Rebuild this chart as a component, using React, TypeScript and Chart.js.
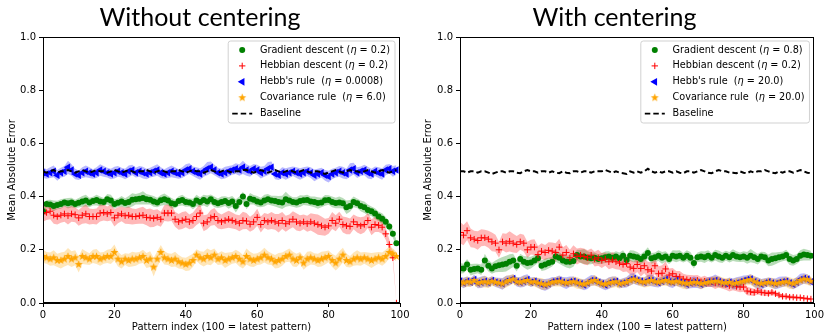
import React, { useEffect, useRef } from 'react';
import { Chart, registerables } from 'chart.js';

Chart.register(...registerables);
Chart.defaults.font.family = '"DejaVu Sans"';
Chart.defaults.color = '#000';

// ---------------- categories / labels ----------------
const patternIndex = Array.from({ length: 100 }, (_, i) => i);
const panelTitles = ['Without centering', 'With centering'];
const xAxisTitle = 'Pattern index (100 = latest pattern)';
const yAxisTitle = 'Mean Absolute Error';
const seriesNames = ['Gradient descent', 'Hebbian descent', "Hebb's rule ", 'Covariance rule '];
const withoutEtas = ['0.2', '0.2', '0.0008', '6.0'];
const withEtas = ['0.8', '0.2', '20.0', '20.0'];
const baselineName = 'Baseline';

// ---------------- Without centering ----------------
const withoutGD = [
  0.345,0.372,0.370,0.365,0.368,0.372,0.378,0.375,0.378,0.372,
  0.377,0.382,0.385,0.378,0.383,0.387,0.382,0.380,0.390,0.385,
  0.372,0.377,0.382,0.376,0.380,0.388,0.390,0.392,0.395,0.390,
  0.388,0.382,0.378,0.386,0.390,0.385,0.375,0.372,0.383,0.387,
  0.380,0.378,0.372,0.385,0.380,0.387,0.382,0.390,0.380,0.375,
  0.380,0.383,0.376,0.382,0.365,0.380,0.400,0.372,0.392,0.388,
  0.382,0.378,0.385,0.390,0.385,0.383,0.380,0.378,0.390,0.385,
  0.380,0.378,0.383,0.386,0.387,0.382,0.380,0.376,0.378,0.386,
  0.387,0.380,0.376,0.378,0.375,0.360,0.365,0.380,0.375,0.365,
  0.360,0.350,0.345,0.336,0.325,0.317,0.305,0.288,0.260,0.225,
];
const withoutGDsd = [
  0.020,0.015,0.018,0.020,0.016,0.018,0.015,0.020,0.018,0.016,
  0.018,0.020,0.022,0.018,0.016,0.020,0.018,0.015,0.020,0.022,
  0.018,0.016,0.020,0.018,0.022,0.025,0.020,0.022,0.025,0.020,
  0.018,0.020,0.018,0.020,0.022,0.018,0.020,0.016,0.018,0.020,
  0.018,0.015,0.020,0.022,0.018,0.020,0.022,0.018,0.020,0.018,
  0.020,0.018,0.022,0.020,0.025,0.020,0.018,0.020,0.022,0.018,
  0.020,0.018,0.022,0.020,0.018,0.020,0.022,0.025,0.028,0.020,
  0.018,0.020,0.022,0.018,0.020,0.018,0.020,0.022,0.018,0.020,
  0.018,0.020,0.020,0.022,0.020,0.025,0.022,0.020,0.018,0.020,
  0.022,0.020,0.018,0.020,0.018,0.020,0.018,0.016,0.015,0.012,
];
const withoutHD = [
  0.335,0.340,0.345,0.330,0.325,0.330,0.335,0.328,0.335,0.332,
  0.320,0.330,0.335,0.325,0.325,0.325,0.338,0.340,0.335,0.340,
  0.320,0.330,0.335,0.328,0.330,0.325,0.325,0.328,0.330,0.322,
  0.320,0.318,0.322,0.315,0.338,0.338,0.338,0.315,0.305,0.310,
  0.315,0.305,0.310,0.325,0.338,0.300,0.305,0.320,0.325,0.310,
  0.305,0.310,0.315,0.310,0.305,0.300,0.310,0.308,0.296,0.305,
  0.322,0.295,0.310,0.305,0.310,0.305,0.300,0.310,0.298,0.305,
  0.315,0.305,0.300,0.305,0.298,0.305,0.300,0.295,0.290,0.285,
  0.290,0.310,0.300,0.315,0.295,0.290,0.288,0.305,0.295,0.290,
  0.295,0.310,0.285,0.295,0.292,0.285,0.260,0.220,0.170,0.000,
];
const withoutHDsd = [
  0.030,0.028,0.030,0.032,0.030,0.028,0.030,0.033,0.030,0.028,
  0.030,0.032,0.035,0.030,0.028,0.030,0.032,0.030,0.028,0.030,
  0.032,0.030,0.028,0.030,0.033,0.030,0.028,0.030,0.032,0.030,
  0.035,0.032,0.030,0.028,0.030,0.032,0.030,0.028,0.030,0.032,
  0.030,0.028,0.030,0.032,0.035,0.030,0.028,0.030,0.032,0.030,
  0.028,0.030,0.032,0.030,0.028,0.030,0.033,0.030,0.028,0.030,
  0.032,0.030,0.028,0.030,0.032,0.030,0.035,0.032,0.030,0.028,
  0.030,0.032,0.030,0.028,0.030,0.032,0.035,0.038,0.035,0.032,
  0.030,0.032,0.030,0.028,0.030,0.032,0.030,0.028,0.030,0.032,
  0.030,0.028,0.030,0.028,0.025,0.025,0.022,0.020,0.015,0.000,
];
const withoutHR = [
  0.490,0.485,0.490,0.495,0.480,0.490,0.495,0.510,0.500,0.485,
  0.480,0.490,0.495,0.490,0.485,0.490,0.500,0.495,0.490,0.485,
  0.490,0.495,0.490,0.485,0.495,0.500,0.490,0.495,0.490,0.485,
  0.490,0.495,0.500,0.490,0.485,0.490,0.495,0.490,0.485,0.490,
  0.500,0.505,0.495,0.490,0.485,0.495,0.505,0.510,0.500,0.490,
  0.485,0.490,0.495,0.500,0.505,0.500,0.510,0.500,0.495,0.505,
  0.500,0.490,0.495,0.505,0.510,0.485,0.480,0.490,0.485,0.490,
  0.495,0.490,0.485,0.490,0.495,0.490,0.480,0.485,0.490,0.480,
  0.475,0.485,0.490,0.495,0.490,0.485,0.500,0.505,0.490,0.495,
  0.500,0.490,0.485,0.495,0.490,0.485,0.500,0.505,0.495,0.500,
];
const withoutHRsd = [
  0.020,0.018,0.020,0.022,0.020,0.018,0.020,0.025,0.022,0.020,
  0.018,0.020,0.022,0.020,0.018,0.020,0.022,0.020,0.018,0.020,
  0.022,0.020,0.018,0.020,0.022,0.020,0.018,0.020,0.022,0.020,
  0.018,0.020,0.022,0.020,0.018,0.020,0.022,0.020,0.018,0.020,
  0.022,0.020,0.018,0.020,0.022,0.020,0.025,0.022,0.020,0.018,
  0.020,0.022,0.020,0.018,0.020,0.022,0.025,0.022,0.020,0.018,
  0.020,0.022,0.020,0.025,0.022,0.020,0.018,0.020,0.022,0.020,
  0.018,0.020,0.022,0.020,0.018,0.020,0.022,0.020,0.018,0.020,
  0.022,0.020,0.018,0.020,0.022,0.020,0.025,0.022,0.020,0.018,
  0.020,0.022,0.020,0.018,0.020,0.022,0.020,0.018,0.020,0.018,
];
const withoutCR = [
  0.175,0.170,0.165,0.170,0.160,0.160,0.165,0.175,0.165,0.170,
  0.145,0.175,0.170,0.165,0.175,0.175,0.165,0.170,0.175,0.175,
  0.190,0.165,0.155,0.165,0.160,0.165,0.165,0.170,0.175,0.160,
  0.165,0.135,0.165,0.190,0.170,0.165,0.160,0.165,0.155,0.150,
  0.145,0.150,0.160,0.180,0.170,0.165,0.175,0.170,0.180,0.165,
  0.170,0.160,0.165,0.170,0.175,0.165,0.155,0.175,0.165,0.160,
  0.165,0.170,0.180,0.170,0.165,0.155,0.160,0.165,0.175,0.180,
  0.165,0.160,0.170,0.150,0.165,0.170,0.165,0.160,0.165,0.170,
  0.175,0.160,0.150,0.165,0.180,0.160,0.155,0.165,0.170,0.165,
  0.170,0.165,0.160,0.165,0.170,0.165,0.175,0.190,0.185,0.175,
];
const withoutCRsd = [
  0.025,0.022,0.025,0.028,0.025,0.030,0.028,0.032,0.030,0.028,
  0.030,0.028,0.025,0.022,0.025,0.028,0.025,0.022,0.025,0.028,
  0.030,0.028,0.025,0.022,0.025,0.028,0.025,0.022,0.025,0.028,
  0.030,0.035,0.030,0.028,0.025,0.022,0.025,0.028,0.025,0.022,
  0.025,0.028,0.025,0.022,0.025,0.028,0.030,0.028,0.025,0.022,
  0.025,0.028,0.025,0.022,0.025,0.028,0.025,0.030,0.028,0.025,
  0.022,0.025,0.028,0.025,0.022,0.025,0.028,0.025,0.022,0.025,
  0.028,0.025,0.022,0.025,0.028,0.025,0.022,0.025,0.028,0.025,
  0.022,0.025,0.028,0.030,0.028,0.025,0.022,0.025,0.028,0.025,
  0.022,0.025,0.028,0.025,0.022,0.025,0.025,0.022,0.020,0.018,
];
const withoutBase = [
  0.495,0.490,0.495,0.500,0.490,0.495,0.495,0.500,0.495,0.490,
  0.495,0.500,0.495,0.490,0.495,0.500,0.495,0.495,0.490,0.495,
  0.500,0.495,0.490,0.495,0.500,0.495,0.490,0.495,0.495,0.500,
  0.495,0.490,0.495,0.500,0.495,0.490,0.495,0.495,0.500,0.495,
  0.490,0.495,0.500,0.495,0.495,0.490,0.495,0.500,0.495,0.490,
  0.495,0.500,0.495,0.490,0.495,0.495,0.500,0.500,0.495,0.490,
  0.495,0.500,0.495,0.490,0.495,0.500,0.495,0.490,0.495,0.500,
  0.495,0.490,0.495,0.500,0.495,0.490,0.495,0.495,0.490,0.485,
  0.490,0.495,0.500,0.495,0.490,0.495,0.500,0.495,0.495,0.490,
  0.495,0.500,0.495,0.490,0.495,0.500,0.495,0.490,0.495,0.500,
];

// ---------------- With centering ----------------
const withGD = [
  0.130,0.130,0.145,0.125,0.128,0.130,0.125,0.160,0.140,0.130,
  0.138,0.142,0.145,0.148,0.155,0.160,0.140,0.165,0.155,0.150,
  0.152,0.160,0.168,0.140,0.145,0.150,0.155,0.175,0.170,0.160,
  0.155,0.155,0.158,0.180,0.175,0.175,0.170,0.168,0.170,0.165,
  0.168,0.172,0.175,0.170,0.175,0.168,0.178,0.162,0.178,0.175,
  0.172,0.165,0.175,0.188,0.168,0.172,0.178,0.170,0.175,0.165,
  0.178,0.175,0.178,0.170,0.178,0.170,0.150,0.172,0.175,0.172,
  0.178,0.170,0.180,0.175,0.170,0.178,0.172,0.180,0.175,0.172,
  0.175,0.170,0.178,0.172,0.165,0.175,0.172,0.160,0.165,0.168,
  0.172,0.175,0.180,0.165,0.160,0.165,0.178,0.182,0.180,0.178,
];
const withGDsd = [
  0.020,0.018,0.020,0.022,0.020,0.018,0.020,0.025,0.022,0.020,
  0.022,0.025,0.028,0.030,0.028,0.025,0.022,0.020,0.022,0.025,
  0.022,0.020,0.018,0.020,0.022,0.020,0.018,0.020,0.022,0.020,
  0.022,0.025,0.022,0.020,0.025,0.028,0.025,0.022,0.020,0.018,
  0.020,0.022,0.020,0.018,0.020,0.022,0.020,0.018,0.020,0.022,
  0.020,0.018,0.020,0.022,0.020,0.018,0.020,0.022,0.020,0.018,
  0.020,0.022,0.020,0.018,0.020,0.022,0.020,0.018,0.020,0.022,
  0.020,0.018,0.020,0.022,0.020,0.018,0.020,0.022,0.020,0.018,
  0.020,0.022,0.025,0.022,0.020,0.018,0.020,0.022,0.025,0.022,
  0.020,0.018,0.020,0.022,0.020,0.018,0.020,0.022,0.020,0.018,
];
const withHD = [
  0.265,0.255,0.272,0.245,0.240,0.235,0.245,0.245,0.240,0.230,
  0.225,0.200,0.230,0.225,0.232,0.225,0.220,0.230,0.225,0.200,
  0.210,0.210,0.182,0.195,0.190,0.198,0.195,0.190,0.210,0.180,
  0.190,0.170,0.185,0.175,0.180,0.175,0.170,0.180,0.165,0.170,
  0.160,0.165,0.155,0.162,0.155,0.150,0.145,0.148,0.135,0.130,
  0.145,0.130,0.140,0.125,0.120,0.140,0.110,0.112,0.128,0.105,
  0.110,0.100,0.098,0.090,0.088,0.085,0.082,0.085,0.080,0.082,
  0.078,0.080,0.075,0.078,0.072,0.070,0.065,0.068,0.062,0.060,
  0.060,0.045,0.042,0.040,0.045,0.040,0.038,0.036,0.040,0.035,
  0.030,0.025,0.025,0.022,0.022,0.020,0.020,0.018,0.016,0.015,
];
const withHDsd = [
  0.040,0.038,0.035,0.035,0.032,0.035,0.032,0.030,0.032,0.035,
  0.032,0.030,0.032,0.035,0.038,0.035,0.032,0.030,0.032,0.030,
  0.028,0.030,0.032,0.030,0.028,0.030,0.032,0.035,0.032,0.030,
  0.028,0.030,0.032,0.030,0.028,0.030,0.028,0.025,0.028,0.030,
  0.028,0.025,0.028,0.030,0.028,0.025,0.028,0.030,0.028,0.025,
  0.028,0.030,0.028,0.030,0.032,0.030,0.028,0.030,0.028,0.025,
  0.022,0.020,0.022,0.020,0.018,0.020,0.022,0.020,0.018,0.020,
  0.018,0.020,0.022,0.020,0.018,0.020,0.022,0.020,0.018,0.020,
  0.018,0.016,0.015,0.014,0.012,0.012,0.011,0.010,0.010,0.009,
  0.008,0.008,0.007,0.007,0.006,0.006,0.005,0.005,0.005,0.005,
];
const withHR = [
  0.082,0.075,0.082,0.078,0.088,0.075,0.078,0.082,0.076,0.085,
  0.078,0.075,0.072,0.082,0.085,0.092,0.080,0.078,0.082,0.088,
  0.078,0.082,0.075,0.070,0.068,0.072,0.080,0.082,0.085,0.078,
  0.075,0.080,0.082,0.076,0.072,0.068,0.075,0.085,0.085,0.078,
  0.072,0.068,0.075,0.080,0.082,0.072,0.075,0.078,0.088,0.092,
  0.085,0.082,0.078,0.085,0.085,0.080,0.076,0.082,0.088,0.080,
  0.078,0.085,0.078,0.075,0.070,0.075,0.078,0.076,0.070,0.075,
  0.080,0.080,0.085,0.080,0.076,0.073,0.078,0.072,0.075,0.080,
  0.085,0.088,0.090,0.080,0.075,0.070,0.075,0.080,0.075,0.072,
  0.077,0.080,0.082,0.075,0.070,0.078,0.088,0.092,0.090,0.080,
];
const withHRsd = [
  0.018,0.020,0.018,0.016,0.018,0.020,0.022,0.020,0.018,0.016,
  0.018,0.020,0.022,0.020,0.018,0.016,0.018,0.020,0.022,0.020,
  0.018,0.016,0.018,0.020,0.022,0.020,0.018,0.016,0.018,0.020,
  0.022,0.020,0.018,0.016,0.018,0.020,0.022,0.020,0.018,0.016,
  0.018,0.020,0.022,0.020,0.018,0.016,0.018,0.020,0.022,0.020,
  0.018,0.016,0.018,0.020,0.022,0.020,0.018,0.016,0.018,0.020,
  0.022,0.020,0.018,0.016,0.018,0.020,0.022,0.020,0.018,0.016,
  0.018,0.020,0.022,0.020,0.018,0.016,0.018,0.020,0.022,0.020,
  0.018,0.016,0.018,0.020,0.022,0.020,0.018,0.016,0.018,0.020,
  0.022,0.020,0.018,0.016,0.018,0.020,0.022,0.020,0.018,0.016,
];
const withCR = [
  0.080,0.075,0.080,0.078,0.085,0.075,0.078,0.080,0.076,0.082,
  0.078,0.075,0.072,0.080,0.085,0.090,0.080,0.078,0.082,0.085,
  0.078,0.080,0.075,0.072,0.068,0.072,0.078,0.080,0.082,0.078,
  0.075,0.078,0.080,0.076,0.072,0.070,0.075,0.082,0.085,0.078,
  0.072,0.070,0.075,0.078,0.080,0.072,0.075,0.078,0.085,0.090,
  0.085,0.080,0.078,0.082,0.085,0.080,0.078,0.082,0.085,0.080,
  0.078,0.082,0.078,0.075,0.072,0.075,0.078,0.076,0.072,0.075,
  0.078,0.080,0.082,0.080,0.076,0.075,0.078,0.072,0.075,0.078,
  0.082,0.085,0.088,0.080,0.075,0.072,0.075,0.078,0.075,0.072,
  0.075,0.078,0.080,0.075,0.072,0.078,0.085,0.090,0.088,0.082,
];
const withCRsd = [
  0.016,0.018,0.020,0.018,0.016,0.018,0.020,0.022,0.020,0.018,
  0.016,0.018,0.020,0.022,0.020,0.018,0.016,0.018,0.020,0.018,
  0.016,0.018,0.020,0.022,0.020,0.018,0.016,0.018,0.020,0.018,
  0.016,0.018,0.020,0.022,0.020,0.018,0.016,0.018,0.020,0.018,
  0.016,0.018,0.020,0.022,0.020,0.018,0.016,0.018,0.020,0.018,
  0.016,0.018,0.020,0.022,0.020,0.018,0.016,0.018,0.020,0.018,
  0.016,0.018,0.020,0.022,0.020,0.018,0.016,0.018,0.020,0.018,
  0.016,0.018,0.020,0.022,0.020,0.018,0.016,0.018,0.020,0.018,
  0.016,0.018,0.020,0.022,0.020,0.018,0.016,0.018,0.020,0.018,
  0.016,0.018,0.020,0.022,0.020,0.018,0.016,0.018,0.020,0.018,
];
const withBase = [
  0.495,0.495,0.490,0.495,0.495,0.490,0.495,0.495,0.490,0.485,
  0.490,0.495,0.495,0.490,0.495,0.495,0.490,0.488,0.495,0.500,
  0.495,0.495,0.490,0.495,0.495,0.490,0.495,0.490,0.488,0.495,
  0.490,0.488,0.495,0.495,0.490,0.495,0.495,0.490,0.495,0.495,
  0.495,0.500,0.495,0.490,0.495,0.490,0.488,0.485,0.495,0.490,
  0.495,0.490,0.495,0.505,0.495,0.490,0.495,0.490,0.495,0.495,
  0.490,0.495,0.490,0.488,0.495,0.495,0.490,0.495,0.500,0.495,
  0.490,0.488,0.495,0.500,0.495,0.495,0.490,0.490,0.488,0.495,
  0.490,0.488,0.495,0.490,0.495,0.495,0.500,0.495,0.490,0.488,
  0.495,0.490,0.495,0.495,0.490,0.495,0.500,0.495,0.490,0.488,
];

// ---------------- styles ----------------
const COLORS = { gd: '#008000', hd: '#ff0000', hr: '#0000ff', cr: '#ffa500' };
const BANDS = {
  gd: 'rgba(0,128,0,0.28)',
  hd: 'rgba(255,0,0,0.28)',
  hr: 'rgba(0,0,255,0.28)',
  cr: 'rgba(255,165,0,0.28)',
};

function makeStar(color: string, outer: number, inner: number) {
  const size = Math.ceil(outer * 2 + 2);
  const c = document.createElement('canvas');
  c.width = size;
  c.height = size;
  const ctx = c.getContext('2d')!;
  const cx = size / 2;
  const cy = size / 2;
  ctx.beginPath();
  for (let i = 0; i < 10; i++) {
    const r = i % 2 === 0 ? outer : inner;
    const a = -Math.PI / 2 + (i * Math.PI) / 5;
    const px = cx + r * Math.cos(a);
    const py = cy + r * Math.sin(a);
    if (i === 0) ctx.moveTo(px, py);
    else ctx.lineTo(px, py);
  }
  ctx.closePath();
  ctx.fillStyle = color;
  ctx.fill();
  return c;
}

const pts = (arr: number[]) => patternIndex.map((x, i) => ({ x, y: arr[i] }));

function bandSets(mean: number[], sd: number[], color: string, order: number) {
  return [
    {
      data: patternIndex.map((x, i) => ({ x, y: mean[i] + sd[i] })),
      fill: '+1',
      backgroundColor: color,
      borderColor: 'rgba(0,0,0,0)',
      borderWidth: 0,
      pointRadius: 0,
      order,
    },
    {
      data: patternIndex.map((x, i) => ({ x, y: mean[i] - sd[i] })),
      fill: false,
      borderColor: 'rgba(0,0,0,0)',
      borderWidth: 0,
      pointRadius: 0,
      order,
    },
  ];
}

const decorPlugin = {
  id: 'decor',
  afterDatasetsDraw(chart: any, _args: any, opts: any) {
    const { ctx, chartArea: a } = chart;
    ctx.save();
    // frame
    ctx.strokeStyle = '#000';
    ctx.lineWidth = 1;
    const l = Math.round(a.left) + 0.5;
    const t = Math.round(a.top) + 0.5;
    const r = Math.round(a.right) - 0.5;
    const b = Math.round(a.bottom) - 0.5;
    ctx.strokeRect(l, t, r - l, b - t);

    // legend
    const fs = 9.7;
    const fontN = `${fs}px "DejaVu Sans"`;
    const fontI = `italic ${fs}px "DejaVu Sans"`;
    const rows: { t: string; f: string }[][] = opts.etas.map((eta: string, i: number) => [
      { t: seriesNames[i] + ' (', f: fontN },
      { t: 'η', f: fontI },
      { t: ' = ' + eta + ')', f: fontN },
    ]);
    rows.push([{ t: baselineName, f: fontN }]);
    let maxW = 0;
    rows.forEach((row) => {
      let w = 0;
      row.forEach((seg) => {
        ctx.font = seg.f;
        w += ctx.measureText(seg.t).width;
      });
      maxW = Math.max(maxW, w);
    });
    const textOff = 31.7;
    const boxW = textOff + maxW + 5;
    const boxH = 82;
    const right = a.right - 5;
    const left = right - boxW;
    const top = a.top + 4;
    ctx.beginPath();
    const rad = 2.5;
    ctx.moveTo(left + rad, top);
    ctx.lineTo(left + boxW - rad, top);
    ctx.arcTo(left + boxW, top, left + boxW, top + rad, rad);
    ctx.lineTo(left + boxW, top + boxH - rad);
    ctx.arcTo(left + boxW, top + boxH, left + boxW - rad, top + boxH, rad);
    ctx.lineTo(left + rad, top + boxH);
    ctx.arcTo(left, top + boxH, left, top + boxH - rad, rad);
    ctx.lineTo(left, top + rad);
    ctx.arcTo(left, top, left + rad, top, rad);
    ctx.closePath();
    ctx.fillStyle = 'rgba(255,255,255,0.85)';
    ctx.fill();
    ctx.strokeStyle = 'rgba(204,204,204,0.9)';
    ctx.lineWidth = 1;
    ctx.stroke();

    const star = opts.star;
    rows.forEach((row, i) => {
      const cy = top + 9 + i * 15.9;
      const mx = left + 14;
      if (i === 0) {
        ctx.beginPath();
        ctx.arc(mx, cy, 3, 0, Math.PI * 2);
        ctx.fillStyle = COLORS.gd;
        ctx.fill();
      } else if (i === 1) {
        ctx.beginPath();
        ctx.moveTo(mx - 3.2, cy);
        ctx.lineTo(mx + 3.2, cy);
        ctx.moveTo(mx, cy - 3.2);
        ctx.lineTo(mx, cy + 3.2);
        ctx.strokeStyle = COLORS.hd;
        ctx.lineWidth = 1;
        ctx.stroke();
      } else if (i === 2) {
        ctx.beginPath();
        ctx.moveTo(mx - 4.5, cy);
        ctx.lineTo(mx + 2.25, cy - 3.9);
        ctx.lineTo(mx + 2.25, cy + 3.9);
        ctx.closePath();
        ctx.fillStyle = COLORS.hr;
        ctx.fill();
      } else if (i === 3) {
        ctx.drawImage(star, mx - star.width / 2, cy - star.height / 2);
      } else {
        ctx.beginPath();
        ctx.setLineDash([5.5, 3]);
        ctx.moveTo(left + 4, cy);
        ctx.lineTo(left + 24, cy);
        ctx.strokeStyle = '#000';
        ctx.lineWidth = 1.8;
        ctx.stroke();
        ctx.setLineDash([]);
      }
      let x = left + textOff;
      ctx.fillStyle = '#000';
      ctx.textBaseline = 'middle';
      ctx.textAlign = 'left';
      row.forEach((seg) => {
        ctx.font = seg.f;
        ctx.fillText(seg.t, x, cy);
        x += ctx.measureText(seg.t).width;
      });
    });
    ctx.restore();
  },
};

type PanelProps = {
  title: string;
  gd: number[]; gdSd: number[];
  hd: number[]; hdSd: number[];
  hr: number[]; hrSd: number[];
  cr: number[]; crSd: number[];
  base: number[];
  etas: string[];
  yAxisWidth: number;
  yTitlePad: number;
  rightPad: number;
};

function Panel(p: PanelProps) {
  const ref = useRef<HTMLCanvasElement>(null);
  useEffect(() => {
    const star = makeStar(COLORS.cr, 4.2, 1.8);
    // lower "order" is drawn later (on top)
    const datasets: any[] = [
      ...bandSets(p.gd, p.gdSd, BANDS.gd, 14),
      ...bandSets(p.hd, p.hdSd, BANDS.hd, 13),
      ...bandSets(p.hr, p.hrSd, BANDS.hr, 12),
      ...bandSets(p.cr, p.crSd, BANDS.cr, 11),
      {
        data: pts(p.gd), showLine: false, pointStyle: 'circle', pointRadius: 3,
        pointBackgroundColor: COLORS.gd, pointBorderWidth: 0, order: 4,
      },
      {
        data: pts(p.hd), showLine: false, pointStyle: 'cross', pointRadius: 3.2,
        pointBorderColor: COLORS.hd, pointBorderWidth: 1, order: 3,
      },
      {
        data: pts(p.hr), showLine: false, pointStyle: 'triangle', pointRotation: -90, pointRadius: 4.3,
        pointBackgroundColor: COLORS.hr, pointBorderWidth: 0, order: 2,
      },
      {
        data: pts(p.cr), showLine: false, pointStyle: star, pointRadius: 4, order: 1,
      },
      {
        data: pts(p.base), borderColor: '#000', borderWidth: 2, borderDash: [5.5, 3],
        pointRadius: 0, fill: false, order: 0,
      },
    ];
    const chart = new Chart(ref.current!, {
      type: 'line',
      data: { datasets },
      options: {
        animation: false,
        responsive: false,
        events: [],
        layout: { padding: { left: 0, right: p.rightPad, top: 0, bottom: 0 } },
        plugins: {
          legend: { display: false },
          tooltip: { enabled: false },
          title: {
            display: true,
            text: p.title,
            font: { family: 'Lato', size: 25, weight: 'normal' },
            color: '#000',
            padding: { top: 3, bottom: 4 },
          },
          decor: { etas: p.etas, star },
        } as any,
        scales: {
          x: {
            type: 'linear',
            min: 0,
            max: 100,
            afterFit: (s: any) => { s.height = 30; },
            ticks: { stepSize: 20, font: { size: 10 }, color: '#000', padding: 2, maxRotation: 0, autoSkip: false },
            grid: { drawOnChartArea: false, drawTicks: true, tickLength: 4, color: '#000' },
            border: { display: true, color: '#000', width: 1 },
            title: { display: true, text: xAxisTitle, font: { size: 10 }, color: '#000', padding: { top: 0, bottom: 0 } },
          },
          y: {
            type: 'linear',
            min: 0,
            max: 1,
            afterFit: (s: any) => { s.width = p.yAxisWidth; },
            ticks: {
              stepSize: 0.2, font: { size: 10 }, color: '#000', padding: 3,
              callback: (v: any) => Number(v).toFixed(1),
            },
            grid: { drawOnChartArea: false, drawTicks: true, tickLength: 4, color: '#000' },
            border: { display: true, color: '#000', width: 1 },
            title: { display: true, text: yAxisTitle, font: { size: 10 }, color: '#000', padding: { top: p.yTitlePad, bottom: 0 } },
          },
        },
      },
      plugins: [decorPlugin],
    } as any);
    return () => chart.destroy();
  }, []);
  return <canvas ref={ref} width={413} height={333} style={{ display: 'block', width: 413, height: 333 }} />;
}

export default function App() {
  return (
    <div style={{ position: 'fixed', left: 0, top: 0, width: 826, height: 333, background: '#fff', display: 'flex' }}>
      <Panel
        title={panelTitles[0]}
        gd={withoutGD} gdSd={withoutGDsd}
        hd={withoutHD} hdSd={withoutHDsd}
        hr={withoutHR} hrSd={withoutHRsd}
        cr={withoutCR} crSd={withoutCRsd}
        base={withoutBase}
        etas={withoutEtas}
        yAxisWidth={43}
        yTitlePad={6}
        rightPad={13}
      />
      <Panel
        title={panelTitles[1]}
        gd={withGD} gdSd={withGDsd}
        hd={withHD} hdSd={withHDsd}
        hr={withHR} hrSd={withHRsd}
        cr={withCR} crSd={withCRsd}
        base={withBase}
        etas={withEtas}
        yAxisWidth={47}
        yTitlePad={9.6}
        rightPad={10}
      />
    </div>
  );
}
